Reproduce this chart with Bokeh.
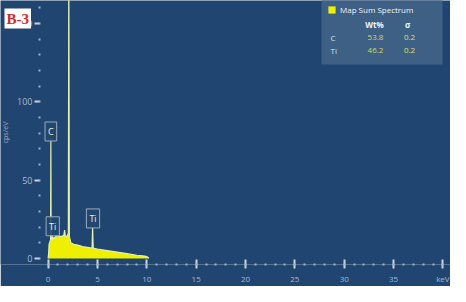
from bokeh.plotting import figure
from bokeh.models import Range1d, FixedTicker, Label, BoxAnnotation, Legend, LegendItem
from bokeh.embed import file_html
from bokeh.resources import INLINE

# ---- data ----
energy_kev = [0.0, 0.05, 0.1, 0.2, 0.25, 0.28, 0.31, 0.4, 0.45, 0.5, 0.6, 0.8, 1.0, 1.2,
              1.4, 1.6, 1.67, 1.75, 1.9, 2.05, 2.1, 2.15, 2.3, 2.6, 3.0, 3.5, 4.0, 4.45,
              4.51, 4.57, 5.0, 6.0, 7.0, 8.0, 9.0, 9.8, 10.1, 10.2]
counts = [0, 3, 9, 11, 12, 76, 12, 12.5, 14, 12.5, 13, 14, 15, 14,
          14, 15, 18, 14, 14, 16, 200, 14, 10, 9, 8.5, 7.5, 7, 6.5,
          20, 6.5, 6, 5, 4, 3, 2, 1.5, 0.8, 0]

peak_names = ["C", "Ti", "Ti"]
peak_energy = [0.28, 0.47, 4.55]
peak_label_counts = [81, 20.5, 25.5]

x_ticks = [0, 5, 10, 15, 20, 25, 30, 35, 40]
x_minor = list(range(0, 41))
x_tick_labels = {40: "keV"}
y_ticks = [0, 50, 100, 150]
y_minor = list(range(0, 170, 10))

elements = ["C", "Ti"]
wt_pct = ["53.8", "46.2"]
sigma = ["0.2", "0.2"]

# ---- styling ----
BG = "#1f4570"
BOX = "#3e6085"
FONT = "Open Sans"
W, H = 450, 286
FH = 268  # frame height (frame spans full width)
X0_PX, PX_PER_KEV = 47.6, 9.87
YAXIS_PX = 39


def sy(y):
    return FH - y


p = figure(width=W, height=H,
           x_range=Range1d(-X0_PX / PX_PER_KEV, (W - X0_PX) / PX_PER_KEV),
           y_range=Range1d(-3.9, 164.6),
           output_backend="svg", toolbar_location=None,
           min_border_left=0, min_border_right=0, min_border_top=0, min_border_bottom=H - FH,
           background_fill_color=BG, border_fill_color=BG, outline_line_color=None)
p.grid.visible = False

area = p.varea(x=energy_kev, y1=0, y2=counts, fill_color="#eef000")
p.line(x=energy_kev, y=counts, line_color="#e2efb0", line_width=1.2)

# x axis
xa = p.xaxis[0]
xa.ticker = FixedTicker(ticks=x_ticks, minor_ticks=x_minor)
xa.major_label_overrides = x_tick_labels
xa.axis_line_color = None
xa.major_tick_in = 5
xa.major_tick_out = 4
xa.major_tick_line_color = "#c8d4e0"
xa.major_tick_line_width = 2
xa.minor_tick_in = 1
xa.minor_tick_out = 1
xa.minor_tick_line_color = "#9fb4c8"
xa.minor_tick_line_width = 2
xa.major_label_standoff = 4
xa.major_label_text_font = FONT
xa.major_label_text_font_size = "8px"
xa.major_label_text_color = "#a8bccf"

# y axis (placed inside the frame so the tag can overlap it)
ya = p.yaxis[0]
ya.fixed_location = (YAXIS_PX - X0_PX) / PX_PER_KEV
ya.ticker = FixedTicker(ticks=y_ticks, minor_ticks=y_minor)
ya.axis_line_color = None
ya.major_tick_in = 0
ya.major_tick_out = 5
ya.major_tick_line_color = "#c8d4e0"
ya.major_tick_line_width = 2
ya.minor_tick_in = 1
ya.minor_tick_out = 1
ya.minor_tick_line_color = "#9fb4c8"
ya.minor_tick_line_width = 2
ya.major_label_standoff = 2
ya.major_label_text_font = FONT
ya.major_label_text_font_size = "9px"
ya.major_label_text_color = "#a8bccf"
ya.axis_label = "cps/eV"
ya.axis_label_text_font = FONT
ya.axis_label_text_font_size = "7px"
ya.axis_label_text_font_style = "normal"
ya.axis_label_text_color = "#9fb0c4"
ya.axis_label_standoff = 4

# peak markers
for name, e, c in zip(peak_names, peak_energy, peak_label_counts):
    p.add_layout(Label(x=e, y=c, text=name, text_align="center", text_baseline="middle",
                       text_font=FONT, text_font_size="9px",
                       text_color="#f2f2c8" if name == "C" else "#e8eef4",
                       background_fill_color="#22476e", background_fill_alpha=0.9,
                       border_line_color="#9aabbd", border_line_width=1, padding=3))

# results box
p.add_layout(BoxAnnotation(left=321, right=442, top=sy(3), bottom=sy(68),
                           left_units="screen", right_units="screen",
                           top_units="screen", bottom_units="screen",
                           fill_color=BOX, fill_alpha=1, line_color=None))

legend = Legend(items=[LegendItem(label="Map Sum Spectrum", renderers=[area])],
                location=(327, sy(19)), background_fill_alpha=0, border_line_color=None,
                glyph_width=9, glyph_height=9, label_height=9, label_standoff=4,
                label_text_font=FONT, label_text_font_size="8px", label_text_color="#f0f4f8",
                padding=0, margin=0, spacing=0)
p.add_layout(legend)


def txt(x, y, t, color, align="center", bold=False):
    p.add_layout(Label(x=x, y=sy(y), x_units="screen", y_units="screen", text=t,
                       text_align=align, text_baseline="middle", text_font=FONT,
                       text_font_size="8px", text_color=color,
                       text_font_style="bold" if bold else "normal"))


txt(374, 28, "Wt%", "#f0f4f8", bold=True)
txt(407, 28, "σ", "#f0f4f8", bold=True)
for i, (el, w, s) in enumerate(zip(elements, wt_pct, sigma)):
    yy = 40.5 + i * 13.5
    txt(330, yy, el, "#d8e0ea", align="left")
    txt(375, yy, w, "#c6dc5c")
    txt(409, yy, s, "#d6e25a")

# sample tag
p.add_layout(Label(x=4, y=sy(12), x_units="screen", y_units="screen", text="B-3",
                   text_align="left", text_baseline="top", text_font="Liberation Serif",
                   text_font_style="bold", text_font_size="15px", text_color="#d42a2a",
                   background_fill_color="white", padding=2))

open("out.html", "w").write(file_html(p, INLINE))
